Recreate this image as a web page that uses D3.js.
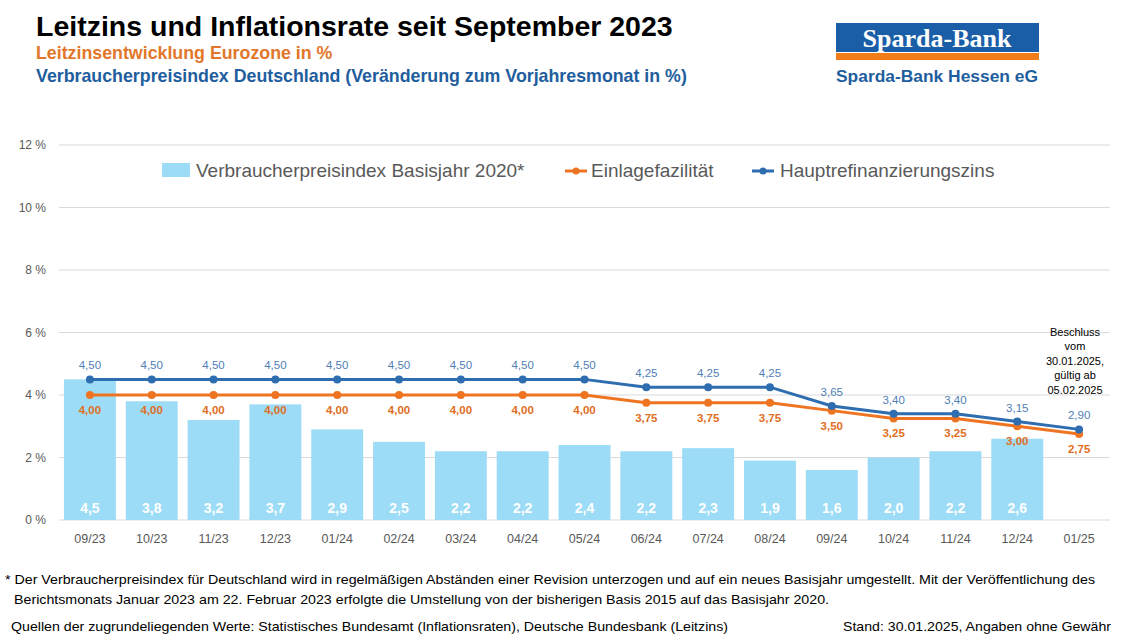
<!DOCTYPE html>
<html><head><meta charset="utf-8">
<script src="https://cdn.jsdelivr.net/npm/d3@7"></script>
<style>body{margin:0;background:#fff}svg{display:block}text{font-family:"Liberation Sans",Arial,sans-serif}</style>
</head><body>
<svg id="c" width="1140" height="641"></svg>
<script>
const categories=["09/23","10/23","11/23","12/23","01/24","02/24","03/24","04/24","05/24","06/24","07/24","08/24","09/24","10/24","11/24","12/24","01/25"];
const cpi=[4.5,3.8,3.2,3.7,2.9,2.5,2.2,2.2,2.4,2.2,2.3,1.9,1.6,2.0,2.2,2.6,null];
const einlage=[4.00,4.00,4.00,4.00,4.00,4.00,4.00,4.00,4.00,3.75,3.75,3.75,3.50,3.25,3.25,3.00,2.75];
const hrz=[4.50,4.50,4.50,4.50,4.50,4.50,4.50,4.50,4.50,4.25,4.25,4.25,3.65,3.40,3.40,3.15,2.90];
const yTicks=[0,2,4,6,8,10,12];

const svg=d3.select("#c");
const fmt1=v=>v.toFixed(1).replace(".",",");
const fmt2=v=>v.toFixed(2).replace(".",",");
const x=d3.scaleBand().domain(categories).range([59,1110]).paddingInner(0.16).paddingOuter(0.08);
const y=d3.scaleLinear().domain([0,12]).range([520,145]);
const cx=c=>x(c)+x.bandwidth()/2;

// titles
svg.append("text").attr("x",36).attr("y",36).attr("font-size",28.5).attr("font-weight","bold").attr("fill","#000").text("Leitzins und Inflationsrate seit September 2023");
svg.append("text").attr("x",36).attr("y",59).attr("font-size",17.8).attr("font-weight","bold").attr("fill","#E2772B").text("Leitzinsentwicklung  Eurozone in %");
svg.append("text").attr("x",36).attr("y",82).attr("font-size",17.8).attr("font-weight","bold").attr("fill","#1F5E9E").text("Verbraucherpreisindex  Deutschland  (Veränderung zum Vorjahresmonat in %)");

// logo
svg.append("rect").attr("x",836).attr("y",23).attr("width",203).attr("height",29).attr("fill","#1B5EA8");
svg.append("text").attr("x",937).attr("y",47).attr("text-anchor","middle").attr("font-size",26).attr("font-weight","bold").attr("fill","#fff").style("font-family","'Liberation Serif','DejaVu Serif',serif").text("Sparda-Bank");
svg.append("rect").attr("x",836).attr("y",53).attr("width",203).attr("height",7).attr("fill","#F07D1A");
svg.append("text").attr("x",836).attr("y",82).attr("font-size",17.4).attr("font-weight","bold").attr("fill","#1F5E9E").text("Sparda-Bank Hessen eG");

// grid
const g=svg.append("g");
g.selectAll("line.grid").data(yTicks).join("line").attr("x1",59).attr("x2",1110).attr("y1",d=>y(d)).attr("y2",d=>y(d)).attr("stroke","#D9D9D9").attr("stroke-width",1);
g.selectAll("text.yt").data(yTicks).join("text").attr("x",46).attr("y",d=>y(d)+4).attr("text-anchor","end").attr("font-size",12).attr("fill","#595959").text(d=>d+" %");

// bars
const cpiData=categories.map((c,i)=>({c,v:cpi[i]})).filter(d=>d.v!=null);
g.selectAll("rect.bar").data(cpiData).join("rect").attr("x",d=>x(d.c)).attr("width",x.bandwidth()).attr("y",d=>y(d.v)).attr("height",d=>y(0)-y(d.v)).attr("fill","#9DDCF6");
g.selectAll("text.bl").data(cpiData).join("text").attr("x",d=>cx(d.c)).attr("y",d=>513).attr("text-anchor","middle").attr("font-size",14).attr("font-weight","bold").attr("fill","#fff").text(d=>fmt1(d.v));

// x labels
g.selectAll("text.xl").data(categories).join("text").attr("x",d=>cx(d)).attr("y",543).attr("text-anchor","middle").attr("font-size",12.5).attr("fill","#595959").text(d=>d);

// lines
const line=d3.line().x((d,i)=>cx(categories[i])).y(d=>y(d));
function series(vals,color,labelColor,dy){
  g.append("path").attr("d",line(vals)).attr("fill","none").attr("stroke",color).attr("stroke-width",3);
  g.selectAll(null).data(vals).join("circle").attr("cx",(d,i)=>cx(categories[i])).attr("cy",d=>y(d)).attr("r",4).attr("fill",color);
  g.selectAll(null).data(vals).join("text").attr("x",(d,i)=>cx(categories[i])).attr("y",d=>y(d)+dy).attr("text-anchor","middle").attr("font-size",11.5).attr("fill",labelColor).attr("font-weight",dy>0?"bold":"normal").text(d=>fmt2(d));
}
series(einlage,"#EE7422","#E06E1E",19);
series(hrz,"#2E6DB0","#4F80B8",-10);

// annotation
const ann=["Beschluss","vom","30.01.2025,","gültig ab","05.02.2025"];
g.selectAll("text.ann").data(ann).join("text").attr("x",1075).attr("y",(d,i)=>336+i*14.4).attr("text-anchor","middle").attr("font-size",11).attr("fill","#000").text(d=>d);

// legend
const lg=svg.append("g");
lg.append("rect").attr("x",162).attr("y",163).attr("width",28).attr("height",14).attr("fill","#9DDCF6");
lg.append("text").attr("x",196).attr("y",177).attr("font-size",19).attr("fill","#595959").text("Verbraucherpreisindex Basisjahr 2020*");
lg.append("line").attr("x1",565).attr("x2",587).attr("y1",171).attr("y2",171).attr("stroke","#EE7422").attr("stroke-width",3);
lg.append("circle").attr("cx",576).attr("cy",171).attr("r",3.5).attr("fill","#EE7422");
lg.append("text").attr("x",591).attr("y",177).attr("font-size",19).attr("fill","#595959").text("Einlagefazilität");
lg.append("line").attr("x1",752).attr("x2",774).attr("y1",171).attr("y2",171).attr("stroke","#2E6DB0").attr("stroke-width",3);
lg.append("circle").attr("cx",763).attr("cy",171).attr("r",3.5).attr("fill","#2E6DB0");
lg.append("text").attr("x",780).attr("y",177).attr("font-size",19).attr("fill","#595959").text("Hauptrefinanzierungszins");

// footnotes
const fn=svg.append("g").attr("font-size",13).attr("fill","#000");
fn.append("text").attr("x",5).attr("y",584).attr("textLength",1090).attr("lengthAdjust","spacingAndGlyphs").text("* Der Verbraucherpreisindex für Deutschland wird in regelmäßigen Abständen einer Revision unterzogen und auf ein neues Basisjahr umgestellt. Mit der Veröffentlichung des");
fn.append("text").attr("x",14).attr("y",604).attr("textLength",815).attr("lengthAdjust","spacingAndGlyphs").text("Berichtsmonats Januar 2023 am 22. Februar 2023 erfolgte die Umstellung von der bisherigen Basis 2015 auf das Basisjahr 2020.");
fn.append("text").attr("x",11).attr("y",631).attr("textLength",717).attr("lengthAdjust","spacingAndGlyphs").text("Quellen der zugrundeliegenden Werte: Statistisches Bundesamt (Inflationsraten),  Deutsche Bundesbank (Leitzins)");
fn.append("text").attr("x",843).attr("y",631).attr("textLength",268).attr("lengthAdjust","spacingAndGlyphs").text("Stand: 30.01.2025, Angaben ohne Gewähr");
</script>
</body></html>
